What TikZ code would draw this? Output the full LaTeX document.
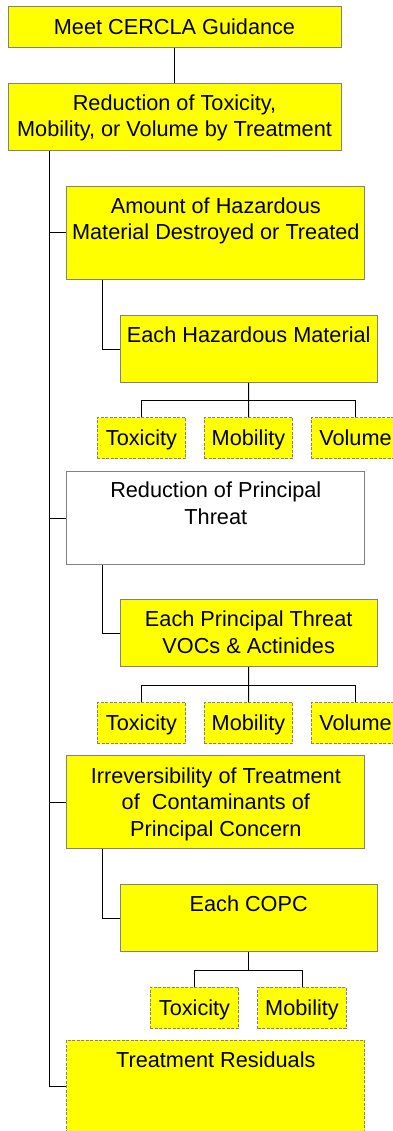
\documentclass[tikz,border=0pt]{standalone}
\usepackage{fontspec}
\setmainfont{Liberation Sans}
\definecolor{hiyellow}{RGB}{255,255,0}
\definecolor{boxgray}{RGB}{128,128,128}
\begin{document}
\begin{tikzpicture}[x=1pt,y=-1pt,
  box/.style={rectangle, draw=boxgray, line width=1pt, fill=hiyellow, inner sep=0pt},
  whitebox/.style={box, fill=white},
  dashbox/.style={box, preaction={draw=white, line width=1pt}, dash pattern=on 3pt off 1.5pt},
  wide/.style={minimum width=298.3pt},
  sub/.style={minimum width=257.3pt, minimum height=66.7pt},
  leaf/.style={dashbox, minimum width=88.3pt, minimum height=41.3pt,
    text height=15pt, text depth=0pt, font=\fontsize{21.7}{26.5}\selectfont},
  boxtext/.style={inner sep=0pt, align=center, anchor=base,
    font=\fontsize{21.7}{26.5}\selectfont},
  link/.style={draw=black, line width=1pt}
]
\useasboundingbox (0,0) rectangle (393,1131);
\fill[white] (0,0) rectangle (393,1131);

% main chain (text anchors sit on the last baseline of each label)
\node[box, minimum width=333pt, minimum height=41pt, text height=15pt, text depth=0pt,
  font=\fontsize{21.7}{26.5}\selectfont] (meet) at (174.5,27.5) {Meet CERCLA Guidance};
\node[box, minimum width=333pt, minimum height=67pt] (reduct) at (174.5,117.5) {};
\node[boxtext] (reductT) at (174.5,137) {Reduction of Toxicity,\\Mobility, or Volume by Treatment};

% criteria boxes
\node[box, wide, minimum height=92.6pt] (amount) at (215.8,233) {};
\node[boxtext] (amountT) at (215.8,240) {Amount of Hazardous\\Material Destroyed or Treated};
\node[box, sub] (each1) at (248.7,349) {};
\node[boxtext] (each1T) at (248.7,342.7) {Each Hazardous Material};

\node[whitebox, wide, minimum height=92.6pt] (princ) at (215.8,518) {};
\node[boxtext] (princT) at (215.8,524.3) {Reduction of Principal\\Threat};
\node[box, sub] (each2) at (248.7,633.3) {};
\node[boxtext] (each2T) at (248.7,653.3) {Each Principal Threat\\VOCs \& Actinides};

\node[box, wide, minimum height=93.3pt] (irrev) at (215.8,802.3) {};
\node[boxtext] (irrevT) at (215.8,836) {Irreversibility of Treatment\\of\ \ Contaminants of\\Principal Concern};
\node[box, sub] (each3) at (248.7,918.3) {};
\node[boxtext] (each3T) at (248.7,911.7) {Each COPC};

\node[dashbox, wide, minimum height=105pt] (resid) at (215.8,1092.5) {};
\node[boxtext] (residT) at (215.8,1067.3) {Treatment Residuals};

% leaf rows
\node[leaf] (tox1) at (141.5,438.3) {Toxicity};
\node[leaf] (mob1) at (248.5,438.3) {Mobility};
\node[leaf] (vol1) at (355.5,438.3) {Volume};
\node[leaf] (tox2) at (141.5,723.3) {Toxicity};
\node[leaf] (mob2) at (248.5,723.3) {Mobility};
\node[leaf] (vol2) at (355.5,723.3) {Volume};
\node[leaf] (tox3) at (194.5,1008) {Toxicity};
\node[leaf] (mob3) at (302,1008) {Mobility};

% connectors
\draw[link] (meet) -- (reduct);
\coordinate (trunk) at ([xshift=-125.2pt]reduct.south);
\draw[link] (trunk) |- (amount.west);
\draw[link] (trunk) |- (princ.west);
\draw[link] (trunk) |- (irrev.west);
\draw[link] (trunk) |- ([yshift=-47.3pt]resid.north west);

\draw[link] ([xshift=36.3pt]amount.south west) |- (each1.west);
\draw[link] ([xshift=36.3pt]princ.south west) |- (each2.west);
\draw[link] ([xshift=36.3pt]irrev.south west) |- (each3.west);

\draw[link] (each1.south) -- ++(0,17.7) -| (tox1.north);
\draw[link] (each1.south) -- (mob1.north);
\draw[link] (each1.south) -- ++(0,17.7) -| (vol1.north);
\draw[link] (each2.south) -- ++(0,18) -| (tox2.north);
\draw[link] (each2.south) -- (mob2.north);
\draw[link] (each2.south) -- ++(0,18) -| (vol2.north);
\draw[link] (each3.south) -- ++(0,18.3) -| (tox3.north);
\draw[link] (each3.south) -- ++(0,18.3) -| (mob3.north);
\end{tikzpicture}
\end{document}
